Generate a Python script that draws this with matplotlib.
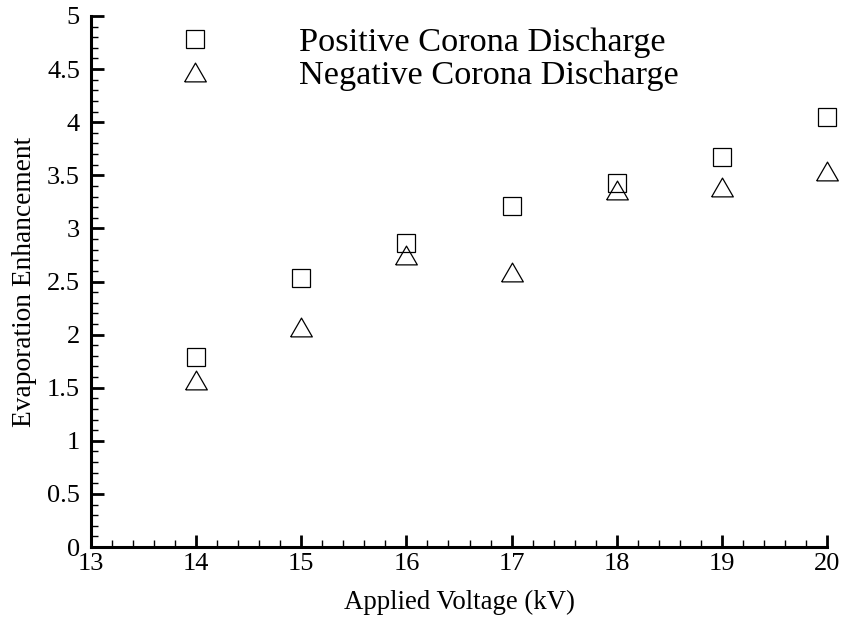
import matplotlib
matplotlib.use("Agg")
import matplotlib.pyplot as plt
from matplotlib.ticker import MultipleLocator

plt.rcParams['font.family'] = ['Liberation Serif', 'DejaVu Serif']
plt.rcParams['mathtext.fontset'] = 'stix'

# Measured evaporation enhancement vs applied voltage
voltage = [14, 15, 16, 17, 18, 19, 20]
positive = [1.79, 2.53, 2.86, 3.21, 3.43, 3.67, 4.05]
negative = [1.57, 2.07, 2.75, 2.59, 3.36, 3.39, 3.54]
labels = ["Positive Corona Discharge", "Negative Corona Discharge"]

# equilateral triangle outline, centred on its bounding box
tri = [(-1.0, -0.866), (1.0, -0.866), (0.0, 0.866), (-1.0, -0.866)]

fig = plt.figure(figsize=(8.45, 6.2), dpi=100)
ax = fig.add_axes([0.1077, 0.1177, 0.871, 0.8565])

ax.plot(voltage, positive, linestyle='none', marker='s', markersize=12.7,
        markerfacecolor='none', markeredgecolor='black', markeredgewidth=0.9,
        label=labels[0], clip_on=False)
ax.plot(voltage, negative, linestyle='none', marker=tri, markersize=15.6,
        markerfacecolor='none', markeredgecolor='black', markeredgewidth=0.9,
        label=labels[1], clip_on=False)

ax.set_xlim(13, 20)
ax.set_ylim(0, 5)
ax.xaxis.set_major_locator(MultipleLocator(1))
ax.xaxis.set_minor_locator(MultipleLocator(0.2))
ax.yaxis.set_major_locator(MultipleLocator(0.5))
ax.yaxis.set_minor_locator(MultipleLocator(0.1))
ax.yaxis.set_major_formatter(plt.FuncFormatter(lambda v, p: f"{v:g}"))

for side in ('top', 'right'):
    ax.spines[side].set_visible(False)
for side in ('left', 'bottom'):
    ax.spines[side].set_linewidth(2.2)

ax.tick_params(which='major', direction='in', length=9, width=2.0, labelsize=19)
ax.tick_params(which='minor', direction='in', length=5, width=1.0)
ax.tick_params(axis='y', which='major', pad=8)
ax.tick_params(axis='x', which='major', pad=4)

ax.set_xlabel("Applied Voltage (kV)", fontsize=19.4, labelpad=11)
ax.set_ylabel("Evaporation Enhancement", fontsize=19.7)
ax.yaxis.set_label_coords(-0.074, 0.5)

leg = ax.legend(loc='upper left', bbox_to_anchor=(0.095, 0.979), frameon=False,
                fontsize=24.7, handlelength=2.0, handletextpad=2.03,
                labelspacing=0.05, borderaxespad=0.0, borderpad=0.0)

fig.savefig("out.png", dpi=100)
